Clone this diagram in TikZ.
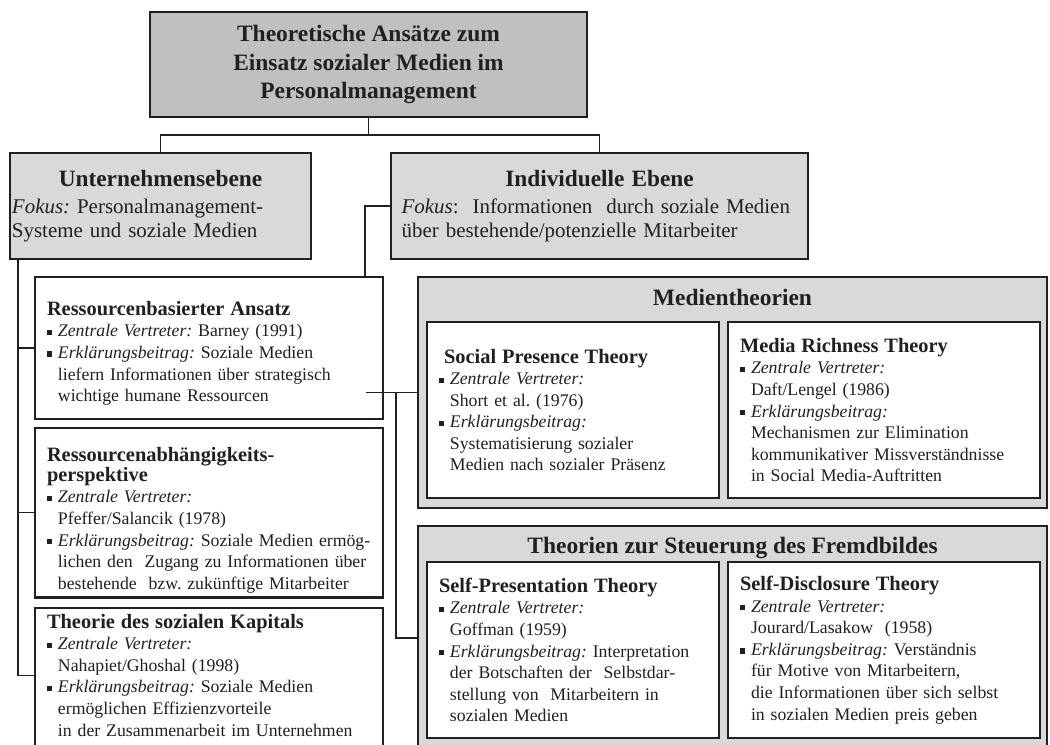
\documentclass[tikz,border=0pt]{standalone}
\usepackage{fontspec}
\setmainfont{Liberation Serif}
\usetikzlibrary{calc}
\definecolor{topfill}{HTML}{C0C0C0}
\definecolor{grpfill}{HTML}{D9D9D9}
\definecolor{inkc}{HTML}{231F20}
\setlength{\parindent}{0pt}
\frenchspacing
\newcommand{\bodyf}{\fontsize{13.3pt}{16.2pt}\selectfont}
\newcommand{\headf}{\fontsize{15.3pt}{15pt}\selectfont\bfseries}
\newcommand{\lvlf}{\fontsize{15.7pt}{18pt}\selectfont}
\newcommand{\lvlhf}{\fontsize{17.5pt}{20pt}\selectfont\bfseries}
\newcommand{\titlef}{\fontsize{17.6pt}{21.5pt}\selectfont\bfseries}
\newcommand{\sqb}{\rule[0.1em]{0.3em}{0.3em}}
\newcommand{\bu}[1]{\par\noindent\makebox[0.62em][l]{\sqb}\mbox{#1}}
\newcommand{\ii}[1]{\par\noindent\hspace*{0.62em}\mbox{#1}}
\newcommand{\hd}[1]{{\headf\noindent #1\par}}

\begin{document}
\begin{tikzpicture}[x=0.75pt,y=-0.75pt]
		\tikzstyle{box}=[draw=inkc, line width=2pt, outer sep=0pt, anchor=north west, text=inkc]
		\tikzstyle{topbox}=[box, fill=topfill, align=center, font=\titlef]
		\tikzstyle{lvlbox}=[box, fill=grpfill, align=left, font=\lvlf, inner ysep=2pt]
		\tikzstyle{grpbox}=[box, fill=grpfill]
		\tikzstyle{leaf}=[box, fill=white, align=left, font=\bodyf, inner xsep=9pt, inner ysep=3pt]
		\tikzstyle{grptitle}=[font=\titlef, text=inkc, anchor=base]
		\tikzstyle{conn}=[draw=inkc, line width=0.8pt]

		\useasboundingbox (0,0) rectangle (1050,744);
		\clip (0,0) rectangle (1050,744);
		\fill[white] (0,0) rectangle (1050,744);

		\node[topbox, minimum width=327.75pt, minimum height=78.75pt] (top) at (150,12)
			{Theoretische Ansätze zum\\Einsatz sozialer Medien im\\Personalmanagement};

		\node[lvlbox, inner xsep=1.5pt, text width=222.75pt, minimum height=79.5pt] (unt) at (10,153)
			{{\centering\lvlhf Unternehmensebene\par}\vspace{2.5pt}
			\emph{Fokus:} Personalmanagement-\par
			Systeme und soziale Medien};
		\node[lvlbox, inner xsep=8pt, text width=296.75pt, minimum height=79.5pt] (ind) at (391,153)
			{{\centering\lvlhf Individuelle Ebene\par}\vspace{2.5pt}
			\emph{Fokus}:\ \ Informationen\ \ durch soziale Medien\par
			über bestehende/potenzielle Mitarbeiter};

		\node[leaf, text width=243pt, minimum height=106.5pt] (rba) at (35,277)
			{\hd{\rule{0pt}{18.5pt}Ressourcenbasierter Ansatz}
			\bu{\emph{Zentrale Vertreter:} Barney (1991)}
			\bu{\emph{Erklärungsbeitrag:} Soziale Medien}
			\ii{liefern Informationen über strategisch}
			\ii{wichtige humane Ressourcen}};
		\node[leaf, text width=243pt, minimum height=126pt] (rap) at (35,428)
			{\hd{\rule{0pt}{22pt}Ressourcenabhängigkeits-\par perspektive}
			\bu{\emph{Zentrale Vertreter:}}
			\ii{Pfeffer/Salancik (1978)}
			\bu{\emph{Erklärungsbeitrag:} Soziale Medien ermög-}
			\ii{lichen den\ \ Zugang zu Informationen über}
			\ii{bestehende\ \ bzw. zukünftige Mitarbeiter}};
		\node[leaf, text width=243pt, inner ysep=4.5pt] (kap) at (35,608)
			{\hd{Theorie des sozialen Kapitals}
			\bu{\emph{Zentrale Vertreter:}}
			\ii{Nahapiet/Ghoshal (1998)}
			\bu{\emph{Erklärungsbeitrag:} Soziale Medien}
			\ii{ermöglichen Effizienzvorteile}
			\ii{in der Zusammenarbeit im Unternehmen}\par
			\vspace{8pt}};

		\node[grpbox, minimum width=471.75pt, minimum height=173.25pt] (med) at (418,277) {};
		\node[grptitle] (medt) at ([yshift=-21pt]med.north) {Medientheorien};
		\node[leaf, text width=201pt, minimum height=132pt] (spt) at (427,322)
			{\hd{\hspace*{0.25em}Social Presence Theory}
			\bu{\emph{Zentrale Vertreter:}}
			\ii{Short et al. (1976)}
			\bu{\emph{Erklärungsbeitrag:}}
			\ii{Systematisierung sozialer}
			\ii{Medien nach sozialer Präsenz}};
		\node[leaf, text width=216pt, minimum height=132pt] (mrt) at (728,322)
			{\hd{Media Richness Theory}
			\bu{\emph{Zentrale Vertreter:}}
			\ii{Daft/Lengel (1986)}
			\bu{\emph{Erklärungsbeitrag:}}
			\ii{Mechanismen zur Elimination}
			\ii{kommunikativer Missverständnisse}
			\ii{in Social Media-Auftritten}};

		\node[grpbox, minimum width=471.75pt, minimum height=168pt] (fremd) at (418,526) {};
		\node[grptitle] (fremdt) at ([yshift=-20.25pt]fremd.north) {Theorien zur Steuerung des Fremdbildes};
		\node[leaf, text width=201pt, minimum height=132pt] (spr) at (427,562)
			{\hd{Self-Presentation Theory}
			\bu{\emph{Zentrale Vertreter:}}
			\ii{Goffman (1959)}
			\bu{\emph{Erklärungsbeitrag:} Interpretation}
			\ii{der Botschaften der\ \ Selbstdar-}
			\ii{stellung von\ \ Mitarbeitern in}
			\ii{sozialen Medien}};
		\node[leaf, text width=216pt, minimum height=132pt] (sdt) at (728,562)
			{\hd{Self-Disclosure Theory}
			\bu{\emph{Zentrale Vertreter:}}
			\ii{Jourard/Lasakow\ \ (1958)}
			\bu{\emph{Erklärungsbeitrag:} Verständnis}
			\ii{für Motive von Mitarbeitern,}
			\ii{die Informationen über sich selbst}
			\ii{in sozialen Medien preis geben}};

		\draw[conn] (top.south) -- ++(0,18) coordinate (fork);
		\draw[conn] (fork) -| (unt.north);
		\draw[conn] (fork) -| (ind.north);
		\draw[conn] ([xshift=6pt]unt.south west) |- (rba.west);
		\draw[conn] ([xshift=6pt]unt.south west) |- (rap.west);
		\draw[conn] ([xshift=6pt]unt.south west) |- ([yshift=4pt]kap.west);
		\draw[conn] (ind.west) -| ([xshift=-13.5pt]rba.north east);
		\draw[conn] (med.west) -- ++(-52,0);
		\draw[conn] (med.west) ++(-22,0) |- (fremd.west);
	\end{tikzpicture}
\end{document}
